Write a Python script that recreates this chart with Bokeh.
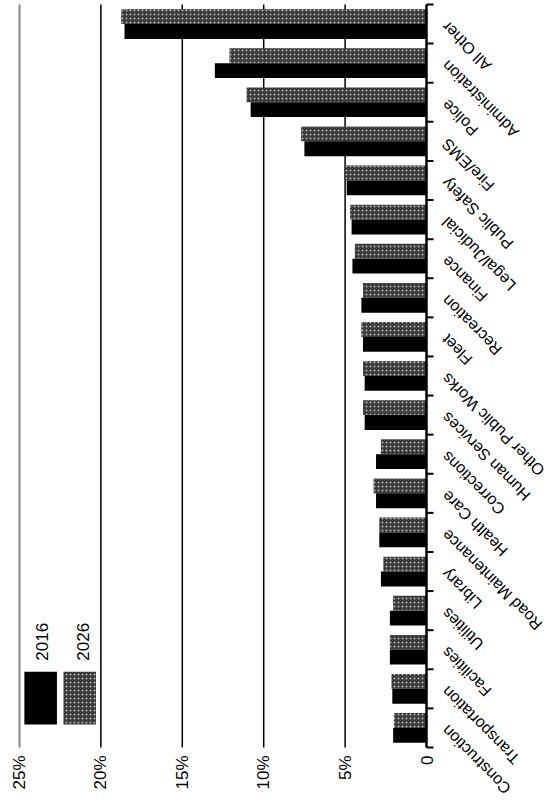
import numpy as np
from bokeh.plotting import figure
from bokeh.models import Range1d, ColumnDataSource, Label, BoxAnnotation
from bokeh.transform import dodge
from bokeh.embed import file_html
from bokeh.resources import INLINE

# ---- data (top of chart to bottom) ----
categories = ["All Other", "Administration", "Police", "Fire/EMS", "Public Safety",
              "Legal/Judicial", "Finance", "Recreation", "Fleet", "Other Public Works",
              "Human Services", "Corrections", "Health Care", "Road Maintenance",
              "Library", "Utilities", "Facilities", "Transportation", "Construction"]
share_2016 = [18.55, 13.0, 10.8, 7.5, 4.9, 4.6, 4.55, 4.0, 3.9, 3.8, 3.8,
              3.1, 3.1, 2.9, 2.8, 2.25, 2.25, 2.1, 2.05]
share_2026 = [18.75, 12.1, 11.05, 7.7, 5.05, 4.7, 4.4, 3.9, 4.0, 3.9, 3.9,
              2.8, 3.25, 2.9, 2.65, 2.05, 2.25, 2.15, 2.0]
series = ["2016", "2026"]
value_ticks = [0, 5, 10, 15, 20, 25]
value_tick_labels = ["0", "5%", "10%", "15%", "20%", "25%"]

FONT = "Liberation Sans"
GRAY = "#3a3a3a"
W, H = 549, 809
n = len(categories)
slot = n - 0.5 - np.arange(n)          # category slot centres, first category at top
bounds = np.arange(n + 1)              # slot boundaries (category-axis ticks)

# layout of the plotting area: value 25% at x=19, 0 at x=426; slots from y=4 to y=747
PX_X = (426 - 19) / (value_ticks[-1] - value_ticks[0])
PX_Y = (747 - 4) / n
x_range = Range1d(value_ticks[-1] + 19 / PX_X, value_ticks[0] - (W - 426) / PX_X)
y_range = Range1d(-(H - 747) / PX_Y, n + 4 / PX_Y)

p = figure(width=W, height=H, x_range=x_range, y_range=y_range,
           output_backend="svg", toolbar_location=None,
           x_axis_location=None, y_axis_location=None,
           min_border_left=0, min_border_right=0, min_border_top=0, min_border_bottom=0)
p.outline_line_color = None
p.background_fill_color = "white"
p.border_fill_color = "white"
p.xgrid.visible = False
p.ygrid.visible = False

# value grid lines (behind bars) and left border line at 25%
grid_x = value_ticks[1:-1]
p.segment(x0=grid_x, x1=grid_x, y0=[0] * len(grid_x), y1=[n] * len(grid_x),
          line_color="black", line_width=1.5, level="underlay")
p.segment(x0=[value_ticks[-1]], x1=[value_ticks[-1]], y0=[0], y1=[n],
          line_color="#8a8a8a", line_width=2, level="underlay")

# value tick labels (rotated, below the plotting area)
for t, s in zip(value_ticks, value_tick_labels):
    p.add_layout(Label(x=t, y=0, text=s, angle=90, angle_units="deg", text_align="right",
                       text_baseline="middle", y_offset=-8, text_font=FONT,
                       text_font_size="17px", text_color="black"))

src = ColumnDataSource(dict(cat=categories, slot=slot, v2016=share_2016, v2026=share_2026))
p.hbar(y=dodge("slot", 0.19), left=0, right="v2026", height=0.38, source=src,
       fill_color=GRAY, line_color=None, hatch_pattern="dot", hatch_color="white",
       hatch_scale=4, hatch_weight=1, hatch_alpha=0.6)
p.hbar(y=dodge("slot", -0.19), left=0, right="v2016", height=0.38, source=src,
       fill_color="black", line_color=None)

# category axis: line at zero with tick marks at slot boundaries
p.segment(x0=[value_ticks[0]], x1=[value_ticks[0]], y0=[0], y1=[n],
          line_color="black", line_width=2.5)
tick_len = 7 / PX_X
p.segment(x0=value_ticks[0], x1=value_ticks[0] - tick_len, y0=bounds, y1=bounds,
          line_color="black", line_width=2)

# category labels (rotated, ending next to the axis)
for name, yv in zip(categories, slot):
    p.add_layout(Label(x=value_ticks[0], y=float(yv), text=name, angle=135, angle_units="deg",
                       text_align="right", text_baseline="middle", x_offset=18,
                       text_font=FONT, text_font_size="16px", text_color="black"))

# legend (rotated like the chart)
p.add_layout(BoxAnnotation(left=24.7, right=22.7, bottom=0.59, top=1.94,
                           fill_color="black", fill_alpha=1, line_color=None))
p.add_layout(BoxAnnotation(left=22.3, right=20.3, bottom=0.59, top=1.94,
                           fill_color=GRAY, fill_alpha=1, line_color=None, hatch_pattern="dot",
                           hatch_color="white", hatch_scale=4, hatch_weight=1, hatch_alpha=0.6))
for xv, txt in zip([23.6, 21.1], series):
    p.add_layout(Label(x=xv, y=2.22, text=txt, angle=90, angle_units="deg",
                       text_align="left", text_baseline="middle", text_font=FONT,
                       text_font_size="17px", text_color="black"))

open("out.html", "w").write(file_html(p, INLINE))
